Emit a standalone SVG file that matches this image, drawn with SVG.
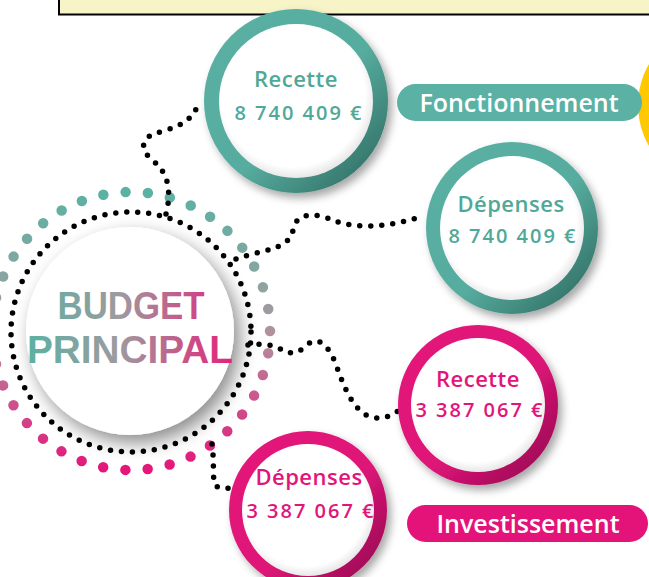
<svg xmlns="http://www.w3.org/2000/svg" width="649" height="577" viewBox="0 0 649 577">
<defs>
  <linearGradient id="tealRing" x1="0" y1="0" x2="1" y2="1">
    <stop offset="0" stop-color="#5BB1A3"/>
    <stop offset="0.55" stop-color="#56AC9E"/>
    <stop offset="1" stop-color="#2A6259"/>
  </linearGradient>
  <linearGradient id="pinkRing" x1="0" y1="0" x2="1" y2="1">
    <stop offset="0" stop-color="#E5157A"/>
    <stop offset="0.55" stop-color="#DE1378"/>
    <stop offset="1" stop-color="#8A0C4A"/>
  </linearGradient>
  <linearGradient id="dotRing" x1="0" y1="0" x2="0" y2="1">
    <stop offset="0" stop-color="#5BB1A3"/>
    <stop offset="0.35" stop-color="#8FA3A0"/>
    <stop offset="0.52" stop-color="#B48F9E"/>
    <stop offset="1" stop-color="#E5157A"/>
  </linearGradient>
  <linearGradient id="titleGrad" gradientUnits="userSpaceOnUse" x1="27" y1="0" x2="233" y2="0">
    <stop offset="0" stop-color="#5BB1A3"/>
    <stop offset="0.45" stop-color="#9E9A9E"/>
    <stop offset="1" stop-color="#E3237A"/>
  </linearGradient>
  <radialGradient id="innerWhite" cx="0.48" cy="0.46" r="0.55">
    <stop offset="0.85" stop-color="#FFFFFF"/>
    <stop offset="1" stop-color="#E4E4E4"/>
  </radialGradient>
  <filter id="bigShadow" x="-30%" y="-30%" width="160%" height="160%">
    <feDropShadow dx="6" dy="8" stdDeviation="9" flood-color="#000" flood-opacity="0.45"/>
  </filter>
  <filter id="nodeShadow" x="-30%" y="-30%" width="160%" height="160%">
    <feDropShadow dx="4" dy="5" stdDeviation="4" flood-color="#000" flood-opacity="0.35"/>
  </filter>
</defs>
<style>
  .dots { fill: none; stroke: #000; stroke-width: 5.5; stroke-linecap: round; stroke-dasharray: 0 11; }
  .inner { fill: url(#innerWhite); }
  .hand { font-family: "Open Sans", "DejaVu Sans", sans-serif; font-weight: 600; text-anchor: middle; }
  .label { font-size: 22px; letter-spacing: 0.5px; }
  .amount { font-size: 20px; letter-spacing: 2px; }
  .teal { fill: #4FA898; }
  .pink { fill: #E2157A; }
  .pill { font-family: "Open Sans", "DejaVu Sans", sans-serif; font-weight: 600; font-size: 25px; fill: #FFFFFF; text-anchor: middle; }
  .title { font-family: "Liberation Sans", Arial, sans-serif; font-weight: bold; font-size: 38px; fill: url(#titleGrad); text-anchor: middle; }
</style>
<rect width="649" height="577" fill="#FFFFFF"/>

<g id="header-box">
  <rect x="59" y="-6" width="600" height="20.5" fill="#F7F5C8" stroke="#000" stroke-width="2"/>
</g>
<g id="yellow-shape">
  <circle cx="720" cy="105" r="82" fill="#FFC800"/>
</g>

<g id="budget-principal">
  <circle cx="130" cy="331" r="104" fill="#FFFFFF" filter="url(#bigShadow)"/>
  <circle cx="131" cy="331" r="139" fill="none" stroke="url(#dotRing)" stroke-width="10.5" stroke-linecap="round" stroke-dasharray="0 22.39"/>
  <circle cx="131" cy="332" r="120" class="dots" stroke-dasharray="0 11.09"/>
  <text x="131" y="319" class="title" textLength="147" lengthAdjust="spacingAndGlyphs">BUDGET</text>
  <text x="130" y="363" class="title" textLength="206" lengthAdjust="spacingAndGlyphs">PRINCIPAL</text>
</g>

<g id="connectors">
  <path class="dots" d="M 166 214 C 172 190, 168 172, 152 160 C 138 148, 142 136, 160 132 C 180 126, 195 120, 199 100"/>
  <path class="dots" d="M 236 259 C 260 250, 290 250, 293 230 C 296 212, 315 212, 335 221 C 360 230, 395 226, 422 216"/>
  <path class="dots" d="M 248 345 C 262 343, 275 345, 282 350 C 292 356, 300 352, 308 344 C 318 336, 328 345, 335 362 C 345 390, 355 415, 375 418 C 388 419, 394 413, 400 410"/>
  <path class="dots" d="M 212 444 C 214 458, 213 474, 214 482 C 215 488, 222 489, 232 488"/>
</g>

<g id="fonct-recette">
  <circle cx="296" cy="101" r="92" fill="url(#tealRing)" filter="url(#nodeShadow)"/>
  <circle cx="296" cy="101" r="77" class="inner"/>
  <text x="296" y="87" class="hand teal label">Recette</text>
  <text x="299" y="120" class="hand teal amount">8 740 409 €</text>
</g>

<g id="fonct-depenses">
  <circle cx="512" cy="228" r="86" fill="url(#tealRing)" filter="url(#nodeShadow)"/>
  <circle cx="512" cy="228" r="72" class="inner"/>
  <text x="511" y="212" class="hand teal label">Dépenses</text>
  <text x="513" y="243" class="hand teal amount">8 740 409 €</text>
</g>

<g id="fonctionnement-label">
  <rect x="397" y="84" width="245" height="37" rx="18.5" fill="#5BB1A3"/>
  <text x="519" y="112" class="pill">Fonctionnement</text>
</g>

<g id="invest-recette">
  <circle cx="478" cy="405" r="80" fill="url(#pinkRing)" filter="url(#nodeShadow)"/>
  <circle cx="478" cy="405" r="67" class="inner"/>
  <text x="478" y="387" class="hand pink label">Recette</text>
  <text x="480" y="417" class="hand pink amount">3 387 067 €</text>
</g>

<g id="invest-depenses">
  <circle cx="308" cy="510" r="79" fill="url(#pinkRing)" filter="url(#nodeShadow)"/>
  <circle cx="308" cy="510" r="66" class="inner"/>
  <text x="309" y="485" class="hand pink label">Dépenses</text>
  <text x="311" y="518" class="hand pink amount">3 387 067 €</text>
</g>

<g id="investissement-label">
  <rect x="407" y="505" width="241" height="37" rx="18.5" fill="#E3137A"/>
  <text x="528" y="533" class="pill">Investissement</text>
</g>
</svg>
